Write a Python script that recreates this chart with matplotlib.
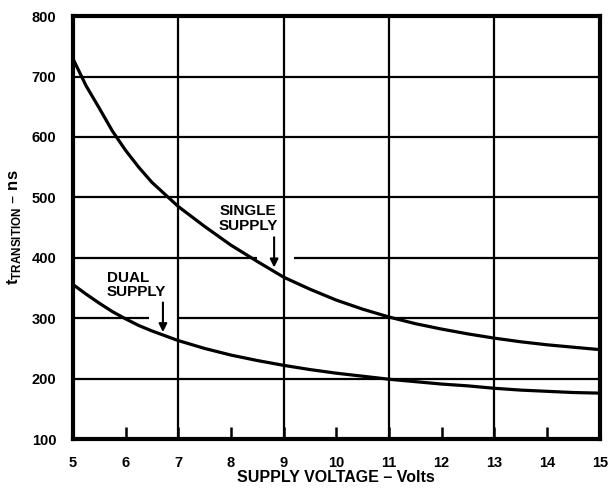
import matplotlib.pyplot as plt

# supply voltage (V) and transition time (ns)
volts = [5, 5.25, 5.5, 5.75, 6, 6.25, 6.5, 7, 7.5, 8, 8.5, 9, 9.5, 10, 10.5, 11,
         11.5, 12, 12.5, 13, 13.5, 14, 14.5, 15]
single = [730, 685, 648, 610, 578, 550, 525, 485, 452, 421, 394, 368, 348, 330, 315, 302,
          291, 282, 274, 267, 261, 256, 252, 248]
dual = [356, 340, 325, 311, 299, 288, 279, 263, 250, 239, 230, 222, 215, 209, 204, 199,
        195, 191, 188, 184, 181, 179, 177, 176]

x_ticks = list(range(5, 16))
y_ticks = list(range(100, 900, 100))
full_vlines = [7, 9, 11, 13]

plt.rcParams['font.family'] = ['Liberation Sans', 'DejaVu Sans']

fig = plt.figure(figsize=(6.12, 4.9), dpi=100)
ax = fig.add_axes([0.119, 0.104, 0.861, 0.863])

ax.set_xlim(5, 15)
ax.set_ylim(100, 800)

# grid, with gaps round the two arrows
for y in y_ticks[1:-1]:
    if y == 400:
        ax.hlines(y, 5, 8.5, color='black', lw=1.6, zorder=1)
        ax.hlines(y, 9.2, 15, color='black', lw=1.6, zorder=1)
    elif y == 300:
        ax.hlines(y, 5, 6.45, color='black', lw=1.6, zorder=1)
        ax.hlines(y, 7.0, 15, color='black', lw=1.6, zorder=1)
    else:
        ax.hlines(y, 5, 15, color='black', lw=1.6, zorder=1)
for x in full_vlines:
    ax.axvline(x, color='black', lw=1.6, zorder=1)

ax.plot(volts, single, color='black', lw=2.3, solid_joinstyle='round', zorder=3)
ax.plot(volts, dual, color='black', lw=2.3, solid_joinstyle='round', zorder=3)

ax.text(8.33, 465, "SINGLE\nSUPPLY", ha='center', va='center', fontsize=11,
        fontweight='bold', linespacing=1.05)
ax.annotate("", xy=(8.82, 384), xytext=(8.82, 434),
            arrowprops=dict(arrowstyle='-|>', color='black', lw=1.5,
                            mutation_scale=12, shrinkA=0, shrinkB=0))
ax.text(5.65, 355, "DUAL\nSUPPLY", ha='left', va='center', fontsize=11,
        fontweight='bold', linespacing=1.05)
ax.annotate("", xy=(6.71, 277), xytext=(6.71, 326),
            arrowprops=dict(arrowstyle='-|>', color='black', lw=1.5,
                            mutation_scale=12, shrinkA=0, shrinkB=0))

for s in ax.spines.values():
    s.set_linewidth(3)

ax.set_xticks(x_ticks)
ax.set_yticks(y_ticks)
ax.tick_params(axis='x', direction='in', length=9, width=1.8, pad=12, labelsize=10.5)
ax.tick_params(axis='y', length=0, pad=12, labelsize=10.5)
for lab in ax.get_xticklabels() + ax.get_yticklabels():
    lab.set_fontweight('bold')

ax.set_xlabel("SUPPLY VOLTAGE – Volts", fontsize=11.5, fontweight='bold', labelpad=0)
ax.set_ylabel(r"t$_{\mathregular{TRANSITION}}$ – ns", fontsize=12, fontweight='bold', labelpad=6)

fig.savefig("out.png", dpi=100)
